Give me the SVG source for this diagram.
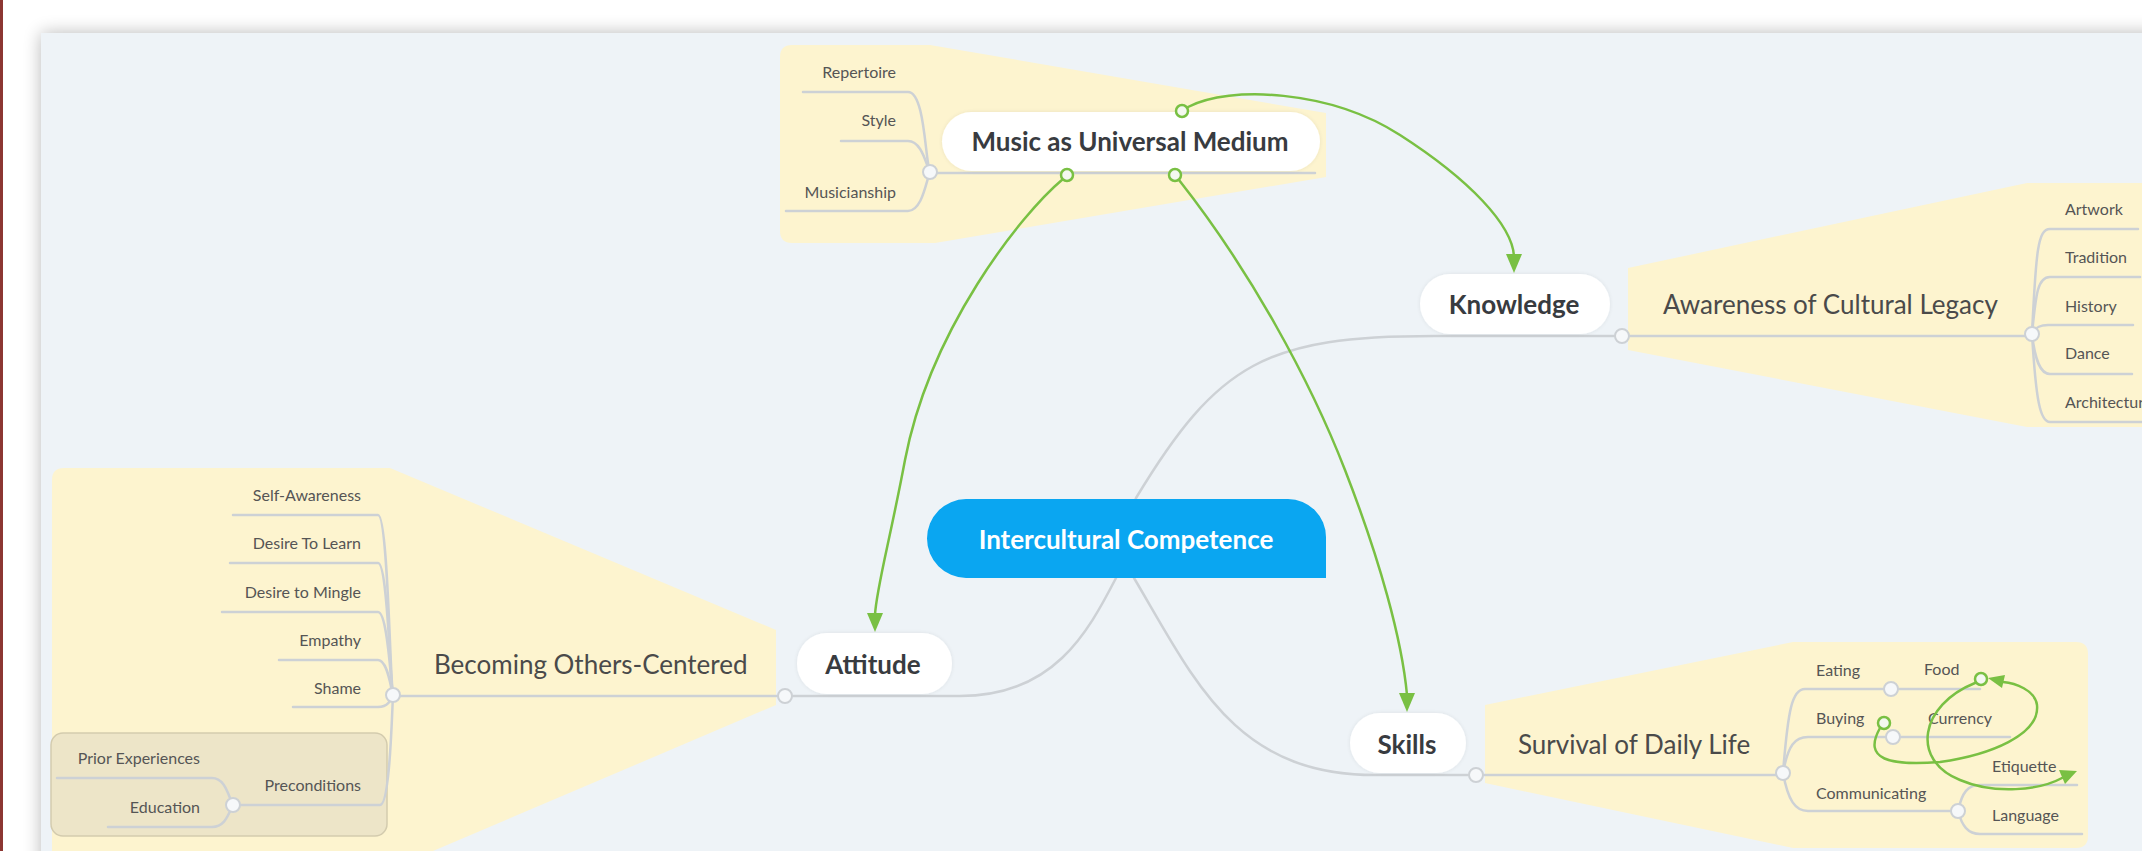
<svg xmlns="http://www.w3.org/2000/svg" width="2142" height="851" viewBox="0 0 2142 851">
<defs>
<filter id="panelShadow" x="-5%" y="-10%" width="110%" height="120%">
<feGaussianBlur in="SourceAlpha" stdDeviation="9"/>
<feOffset dx="0" dy="0"/>
<feComponentTransfer><feFuncA type="linear" slope="0.28"/></feComponentTransfer>
<feMerge><feMergeNode/><feMergeNode in="SourceGraphic"/></feMerge>
</filter>
<filter id="pillShadow" x="-10%" y="-20%" width="120%" height="140%">
<feGaussianBlur in="SourceAlpha" stdDeviation="2"/>
<feComponentTransfer><feFuncA type="linear" slope="0.08"/></feComponentTransfer>
<feMerge><feMergeNode/><feMergeNode in="SourceGraphic"/></feMerge>
</filter>
</defs>
<style>
.hl{fill:#fdf4cf;stroke:none}
.ln{fill:none;stroke:#cdd1d5;stroke-width:2.5;stroke-linecap:round}
.dot{fill:#f6f8fa;stroke:#cdd1d5;stroke-width:2}
.pill{fill:#ffffff}
.main{font-family:Lato,"Liberation Sans",sans-serif;font-weight:700;font-size:26px;fill:#383b40;text-anchor:middle}
.br{font-family:Lato,"Liberation Sans",sans-serif;font-weight:400;font-size:26px;fill:#4a4a4a}
.ch{font-family:Lato,"Liberation Sans",sans-serif;font-weight:400;font-size:16px;fill:#555555}
.r{text-anchor:end}
.gl{fill:none;stroke:#79c043;stroke-width:2.5;stroke-linecap:round}
.gc{fill:#f4f8f0;stroke:#79c043;stroke-width:2.5}
.ga{fill:#79c043;stroke:none}
</style>
<rect x="0" y="0" width="2142" height="851" fill="#ffffff"/>
<rect x="41" y="33" width="2200" height="900" fill="#eef3f7" filter="url(#panelShadow)"/>
<rect x="0" y="0" width="3" height="851" fill="#8c3632"/>

<g id="highlights">
<path class="hl" d="M792,45 L930,45 L1326,113 L1326,177 L935,243 L792,243 Q780,243 780,231 L780,57 Q780,45 792,45 Z"/>
<path class="hl" d="M1628,268 L2027,183 L2142,183 L2142,427 L2027,427 L1628,350 Z"/>
<path class="hl" d="M64,468 L390,468 L776,630 L776,705 L433,851 L52,851 L52,480 Q52,468 64,468 Z"/>
<path class="hl" d="M1485,705 L1793,642 L2076,642 Q2088,642 2088,654 L2088,836 Q2088,848 2076,848 L1793,848 L1485,783 Z"/>
<rect x="51" y="733" width="336" height="103" rx="12" fill="#ede5c8" stroke="#d3cbae" stroke-width="1.5"/>
</g>

<g id="connectors">
<path class="ln" d="M1130,515 L1136,498 C1218,362 1267,336 1434,336 L1622,336"/>
<path class="ln" d="M1126,560 L1116,578 C1087,634 1053,696 960,696 L785,696"/>
<path class="ln" d="M1122,548 L1134,578 C1195,681 1235,775 1375,775 L1476,775"/>
<path class="ln" d="M785,696 L393,696"/>
<path class="ln" d="M1622,336 L2032,336"/>
<path class="ln" d="M1476,775 L1783,775"/>
<path class="ln" d="M930,173 L1315,173"/>
<path class="ln" d="M803,92 L908,92 C925,92 925,160 930,172"/>
<path class="ln" d="M841,141 L908,141 C922,141 926,165 930,172"/>
<path class="ln" d="M786,211 L908,211 C922,211 926,182 930,172"/>
<path class="ln" d="M233,515 L378,515 C388,515 390,680 393,695"/>
<path class="ln" d="M230,563 L378,563 C388,563 390,685 393,695"/>
<path class="ln" d="M222,612 L378,612 C388,612 391,688 393,695"/>
<path class="ln" d="M279,660 L378,660 C388,660 391,690 393,695"/>
<path class="ln" d="M293,707 L378,707 C388,707 391,700 393,695"/>
<path class="ln" d="M233,805 L380,805 C390,805 392,712 393,695"/>
<path class="ln" d="M57,778 L212,778 C225,778 228,795 233,805"/>
<path class="ln" d="M108,827 L212,827 C225,827 228,815 233,805"/>
<path class="ln" d="M2032,334 C2036,250 2038,229 2050,229 L2138,229"/>
<path class="ln" d="M2032,334 C2036,292 2038,277 2050,277 L2140,277"/>
<path class="ln" d="M2032,334 C2035,327 2040,325 2048,325 L2133,325"/>
<path class="ln" d="M2032,334 C2035,360 2040,374 2050,374 L2132,374"/>
<path class="ln" d="M2032,334 C2036,400 2040,422 2050,422 L2142,422"/>
<path class="ln" d="M1783,773 C1788,710 1792,689 1805,689 L1980,689"/>
<path class="ln" d="M1783,773 C1788,745 1795,737 1808,737 L2010,737"/>
<path class="ln" d="M1783,773 C1788,800 1795,811 1808,811 L1958,811"/>
<path class="ln" d="M1958,811 C1962,792 1968,785 1980,785 L2077,785"/>
<path class="ln" d="M1958,811 C1962,826 1968,834 1980,834 L2082,834"/>
<circle class="dot" cx="930" cy="172" r="7"/>
<circle class="dot" cx="1622" cy="336" r="7"/>
<circle class="dot" cx="2032" cy="334" r="7"/>
<circle class="dot" cx="785" cy="696" r="7"/>
<circle class="dot" cx="393" cy="695" r="7"/>
<circle class="dot" cx="233" cy="805" r="7"/>
<circle class="dot" cx="1476" cy="775" r="7"/>
<circle class="dot" cx="1783" cy="773" r="7"/>
<circle class="dot" cx="1891" cy="689" r="7"/>
<circle class="dot" cx="1893" cy="737" r="7"/>
<circle class="dot" cx="1958" cy="811" r="7"/>
</g>

<g id="node-central">
<path d="M966,499 H1288 A38,38 0 0 1 1326,537 V578 H966 A39.5,39.5 0 0 1 927,538.5 A39.5,39.5 0 0 1 966,499 Z" fill="#0aa6f1"/>
<text x="1126" y="549" class="main" style="fill:#ffffff">Intercultural Competence</text>
</g>

<g id="node-music">
<rect class="pill" x="942" y="112" width="378" height="59" rx="29.5" filter="url(#pillShadow)"/>
<text x="1130" y="151" class="main">Music as Universal Medium</text>
<text x="896" y="78" class="ch r">Repertoire</text>
<text x="896" y="126" class="ch r">Style</text>
<text x="896" y="198" class="ch r">Musicianship</text>
</g>

<g id="node-knowledge">
<rect class="pill" x="1420" y="274" width="190" height="60" rx="30" filter="url(#pillShadow)"/>
<text x="1514" y="314" class="main">Knowledge</text>
<text x="1663" y="314" class="br">Awareness of Cultural Legacy</text>
<text x="2065" y="215" class="ch">Artwork</text>
<text x="2065" y="263" class="ch">Tradition</text>
<text x="2065" y="312" class="ch">History</text>
<text x="2065" y="359" class="ch">Dance</text>
<text x="2065" y="408" class="ch">Architecture</text>
</g>

<g id="node-attitude">
<rect class="pill" x="797" y="633" width="155" height="61" rx="30" filter="url(#pillShadow)"/>
<text x="873" y="674" class="main">Attitude</text>
<text x="434" y="674" class="br">Becoming Others-Centered</text>
<text x="361" y="501" class="ch r">Self-Awareness</text>
<text x="361" y="549" class="ch r">Desire To Learn</text>
<text x="361" y="598" class="ch r">Desire to Mingle</text>
<text x="361" y="646" class="ch r">Empathy</text>
<text x="361" y="694" class="ch r">Shame</text>
<text x="361" y="791" class="ch r">Preconditions</text>
<text x="200" y="764" class="ch r">Prior Experiences</text>
<text x="200" y="813" class="ch r">Education</text>
</g>

<g id="node-skills">
<rect class="pill" x="1350" y="713" width="116" height="60" rx="30" filter="url(#pillShadow)"/>
<text x="1407" y="754" class="main">Skills</text>
<text x="1518" y="754" class="br">Survival of Daily Life</text>
<text x="1816" y="676" class="ch">Eating</text>
<text x="1924" y="675" class="ch">Food</text>
<text x="1816" y="724" class="ch">Buying</text>
<text x="1928" y="724" class="ch">Currency</text>
<text x="1816" y="799" class="ch">Communicating</text>
<text x="1992" y="772" class="ch">Etiquette</text>
<text x="1992" y="821" class="ch">Language</text>
</g>

<g id="relations">
<path class="gl" d="M1188,107 C1230,85 1330,90 1400,135 C1470,180 1512,225 1514,256"/>
<polygon class="ga" points="1514,273 1506,254 1522,254"/>
<path class="gl" d="M1063,179 C1020,215 930,330 905,460 C890,540 876,590 875,615"/>
<polygon class="ga" points="875,632 867,613 883,613"/>
<path class="gl" d="M1179,180 C1250,270 1310,380 1345,470 C1380,560 1402,640 1407,695"/>
<polygon class="ga" points="1407,712 1399,693 1415,693"/>
<path class="gl" d="M1880,728 C1862,760 1890,766 1940,762 C1990,755 2040,735 2037,705 C2035,690 2015,683 2003,682"/>
<polygon class="ga" points="1988,678 2005,675 2002,688"/>
<path class="gl" d="M1975,683 C1920,705 1910,760 1960,780 C1995,795 2040,790 2062,778"/>
<polygon class="ga" points="2077,771 2065,784 2059,770"/>
<circle class="gc" cx="1182" cy="111" r="6"/>
<circle class="gc" cx="1067" cy="175" r="6"/>
<circle class="gc" cx="1175" cy="175" r="6"/>
<circle class="gc" cx="1884" cy="723" r="6"/>
<circle class="gc" cx="1981" cy="679" r="6"/>
</g>
</svg>
